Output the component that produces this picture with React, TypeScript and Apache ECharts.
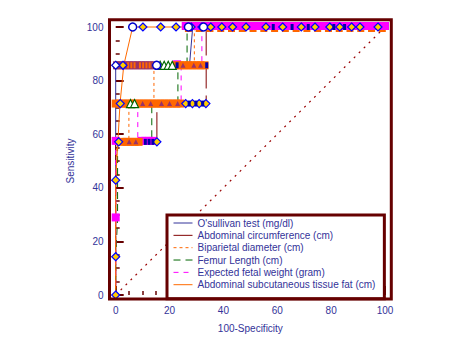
import React, { useEffect, useRef } from 'react';
import * as echarts from 'echarts';

// ---- data (100-Specificity %, Sensitivity %) ----
const seriesNames = [
  "O'sullivan test (mg/dl)",
  'Abdominal circumference (cm)',
  'Biparietal diameter (cm)',
  'Femur Length (cm)',
  'Expected fetal weight (gram)',
  'Abdominal subcutaneous tissue fat (cm)',
];

const osullivanX = [0, 0, 0, 0, 0, 0, 0, 27.4, 28.6, 100];
const osullivanY = [0, 14.29, 28.57, 42.86, 57.14, 71.43, 85.71, 85.71, 100, 100];

const abdCircX = [0, 0, 0, 0, 0, 15.3, 15.3, 33.6, 33.6, 100];
const abdCircY = [0, 14.29, 28.57, 42.86, 57.14, 57.14, 71.43, 71.43, 100, 100];

const bpdX = [0, 0, 0, 0, 0.5, 4.9, 4.9, 14.2, 14.2, 29.2, 29.2, 100];
const bpdY = [0, 14.29, 28.57, 42.86, 57.14, 57.14, 71.43, 71.43, 85.71, 85.71, 100, 100];

const femurX = [0, 0, 0.7, 0.7, 0.7, 13.4, 13.4, 23.1, 23.1, 26.5, 26.5, 100];
const femurY = [0, 14.29, 28.57, 42.86, 57.14, 57.14, 71.43, 71.43, 85.71, 85.71, 100, 100];

const efwX = [0, 0, 0, 0, 0, 8.2, 8.2, 24.3, 24.3, 32, 32, 100];
const efwY = [0, 14.29, 28.57, 42.86, 57.14, 57.14, 71.43, 71.43, 85.71, 85.71, 100, 100];

const fatX = [0, 0, 0, 0, 0.8, 1.6, 3.0, 6.3, 100];
const fatY = [0, 14.29, 28.57, 42.86, 57.14, 71.43, 85.71, 100, 100];

const diagX = [0, 100];
const diagY = [0, 100];

// ---- point markers ----
const diamondX = [0, 0, 0, 1.1, 1.7, 2.7, 10.1, 16.7, 22.4, 28, 32, 35.3, 39.4, 43.4, 48.4, 55.8, 62, 68.9, 74, 79.5, 83.2, 87.6, 90.7, 97.4, 15.3, 26, 28.5, 31, 33.5];
const diamondY = [0, 14.29, 42.86, 57.14, 71.43, 85.71, 100, 100, 100, 100, 100, 100, 100, 100, 100, 100, 100, 100, 100, 100, 100, 100, 100, 100, 57.14, 71.43, 71.43, 71.43, 71.43];

const circleX = [6.3, 15.2, 27, 32.6];
const circleY = [100, 85.71, 100, 100];

const openDiamondX = [0];
const openDiamondY = [85.71];

const magentaX = [0, 0, 22.8, 9.6, 11, 12.4, 13.8, 26, 28, 30, 32, 34, 36, 38, 40, 42, 44, 46, 48, 50, 52, 54, 56, 58, 60, 62, 64, 66, 68, 70, 72, 74, 76, 78, 80, 82, 84, 86, 88, 90, 92, 94, 96, 98, 100];
const magentaY = [28.57, 57.14, 85.71, 57.14, 57.14, 57.14, 57.14, 100, 100, 100, 100, 100, 100, 100, 100, 100, 100, 100, 100, 100, 100, 100, 100, 100, 100, 100, 100, 100, 100, 100, 100, 100, 100, 100, 100, 100, 100, 100, 100, 100, 100, 100, 100, 100, 100];

const orangeX = [0, 1.5, 3, 4.5, 6, 7.5, 9, 10.5, 12, 13.5, 15, 16.5, 18, 19.5, 21, 22.5, 24, 22.5, 24, 25.5, 27, 28.5, 30, 31.5, 33, 2.5, 4, 5.5, 7, 8.5];
const orangeY = [71.43, 71.43, 71.43, 71.43, 71.43, 71.43, 71.43, 71.43, 71.43, 71.43, 71.43, 71.43, 71.43, 71.43, 71.43, 71.43, 71.43, 85.71, 85.71, 85.71, 85.71, 85.71, 85.71, 85.71, 85.71, 57.14, 57.14, 57.14, 57.14, 57.14];

const orangeTopX = [27, 31, 35, 39, 43, 47, 51, 55, 59, 63, 67, 71, 75, 79, 83, 87, 91, 95, 99];
const orangeTopY = [100, 100, 100, 100, 100, 100, 100, 100, 100, 100, 100, 100, 100, 100, 100, 100, 100, 100, 100];

const purpleX = [0.5, 2, 3.5, 5, 6.5, 8, 9.5, 11, 12.5, 14];
const purpleY = [85.71, 85.71, 85.71, 85.71, 85.71, 85.71, 85.71, 85.71, 85.71, 85.71];

const stripeX = [4.6, 5.8, 7.0, 9.0, 10.2, 11.4, 12.6, 13.8];
const stripeY = [85.71, 85.71, 85.71, 85.71, 85.71, 85.71, 85.71, 85.71];

const hatchX = [10, 13, 17, 20, 23, 25, 29, 31.5, 5, 7.5];
const hatchY = [71.43, 71.43, 71.43, 71.43, 71.43, 85.71, 85.71, 85.71, 57.14, 57.14];

const triangleX = [5.5, 7.0, 16.5, 18, 19.5, 21];
const triangleY = [71.43, 71.43, 85.71, 85.71, 85.71, 85.71];

const navyX = [27.3, 29.8, 32.3, 11, 12.4, 13.8, 33.8, 22.8, 58.5, 65.5, 71.5, 81, 85];
const navyY = [71.43, 71.43, 71.43, 57.14, 57.14, 57.14, 85.71, 85.71, 100, 100, 100, 100, 100];

const xTicks = { min: 0, max: 100, interval: 20 };
const yTicks = { min: 0, max: 100, interval: 20 };

// ---- styling ----
const FRAME = '#660000';
const TEXT = '#333399';
const FONT = "'Liberation Sans', Arial, sans-serif";

const pts = (xs: number[], ys: number[]) => xs.map((x, i) => [x, ys[i]]);

const lineDefs = [
  { x: osullivanX, y: osullivanY, color: '#333399', type: 'solid' as any },
  { x: abdCircX, y: abdCircY, color: '#800000', type: [26, 7] },
  { x: bpdX, y: bpdY, color: '#ff6600', type: [3, 3] },
  { x: femurX, y: femurY, color: '#006600', type: [7, 5] },
  { x: efwX, y: efwY, color: '#ff00ff', type: [5, 5] },
  { x: fatX, y: fatY, color: '#ff6a00', type: 'solid' as any },
];

const markerSeries = (
  name: string,
  xs: number[],
  ys: number[],
  symbol: string,
  size: any,
  fill: string,
  border: string,
  bw: number,
  z: number,
  offset: number[] = [0, 0]
) => ({
  type: 'scatter',
  name,
  data: pts(xs, ys),
  symbol,
  symbolSize: size,
  symbolOffset: offset,
  itemStyle: { color: fill, borderColor: border, borderWidth: bw, opacity: 1 },
  clip: false,
  silent: true,
  z,
});

export default function App() {
  const ref = useRef<HTMLDivElement>(null);
  useEffect(() => {
    const chart = echarts.init(ref.current!, null, { renderer: 'svg' });
    const option: any = {
      animation: false,
      backgroundColor: '#ffffff',
      grid: { left: 115.7, right: 85, top: 27, bottom: 58 },
      xAxis: {
        type: 'value',
        ...xTicks,
        offset: 4,
        name: '100-Specificity',
        nameLocation: 'middle',
        nameGap: 24,
        nameTextStyle: { color: TEXT, fontSize: 10, fontFamily: FONT },
        axisLine: { show: false },
        axisTick: { show: true, inside: true, length: 9, lineStyle: { color: FRAME, width: 2 } },
        minorTick: { show: true, splitNumber: 4, length: 4, lineStyle: { color: FRAME, width: 1.5 } },
        splitLine: { show: false },
        axisLabel: { color: TEXT, fontSize: 10, fontFamily: FONT, margin: 6 },
      },
      yAxis: {
        type: 'value',
        ...yTicks,
        offset: 6.2,
        name: 'Sensitivity',
        nameLocation: 'middle',
        nameGap: 25,
        nameRotate: 90,
        nameTextStyle: { color: TEXT, fontSize: 10, fontFamily: FONT },
        axisLine: { show: false },
        axisTick: { show: true, inside: true, length: 8, lineStyle: { color: FRAME, width: 2 } },
        minorTick: { show: true, splitNumber: 4, length: 4, lineStyle: { color: FRAME, width: 1.5 } },
        splitLine: { show: false },
        axisLabel: { color: TEXT, fontSize: 10, fontFamily: FONT, margin: 6 },
      },
      legend: {
        data: seriesNames,
        orient: 'vertical',
        left: 167,
        top: 215,
        padding: [2, 9, 8, 6],
        itemWidth: 19,
        itemHeight: 8,
        itemGap: 0.34,
        selectedMode: false,
        backgroundColor: '#ffffff',
        borderColor: FRAME,
        borderWidth: 3,
        borderRadius: 0,
        itemStyle: { opacity: 0 },
        lineStyle: { width: 1 },
        textStyle: { color: TEXT, fontSize: 10, fontFamily: FONT, lineHeight: 12 },
      },
      graphic: [
        {
          type: 'rect',
          shape: { x: 109.5, y: 19.7, width: 281.8, height: 279.3 },
          style: { fill: 'none', stroke: FRAME, lineWidth: 3 },
          silent: true,
          z: 100,
        },
      ],
      series: [
        {
          type: 'line',
          name: 'diagonal',
          data: pts(diagX, diagY),
          symbol: 'none',
          lineStyle: { color: '#990000', width: 1.2, type: [2, 5] },
          silent: true,
          clip: false,
          z: 1,
        },
        ...lineDefs.map((d, i) => ({
          type: 'line',
          name: seriesNames[i],
          data: pts(d.x, d.y),
          symbol: 'none',
          lineStyle: { color: d.color, width: 1, type: d.type },
          itemStyle: { color: d.color },
          silent: true,
          clip: false,
          z: 2,
        })),
        markerSeries('m-orange-top', orangeTopX, orangeTopY, 'rect', 7, '#ff6600', '#ff6600', 0, 3, [0, 1.5]),
        markerSeries('m-magenta', magentaX, magentaY, 'rect', 8, '#ff00ff', '#ff00ff', 0, 3, [0, -1]),
        markerSeries('m-orange', orangeX, orangeY, 'rect', 8, '#ff6600', '#ff6600', 0, 3),
        markerSeries('m-purple', purpleX, purpleY, 'rect', 8, '#993366', '#993366', 0, 3),
        markerSeries('m-stripe', stripeX, stripeY, 'rect', [2, 6], '#ff6600', '#ff6600', 0, 4),
        markerSeries('m-hatch', hatchX, hatchY, 'triangle', 5, '#993366', '#993366', 0, 4),
        markerSeries('m-triangle', triangleX, triangleY, 'triangle', 8, '#ffffff', '#006600', 1.2, 4),
        markerSeries('m-diamond', diamondX, diamondY, 'diamond', 8, '#ffcc00', '#0000ff', 1.2, 5),
        markerSeries('m-open-diamond', openDiamondX, openDiamondY, 'diamond', 8, '#ffffff', '#0000cc', 1.2, 6),
        markerSeries('m-circle', circleX, circleY, 'circle', 8, '#ffffff', '#0000cc', 1.5, 6),
        markerSeries('m-navy', navyX, navyY, 'rect', [3, 6], '#0000aa', '#0000aa', 0, 7),
      ],
    };
    chart.setOption(option);
    return () => chart.dispose();
  }, []);
  return (
    <div
      ref={ref}
      style={{ position: 'fixed', left: 0, top: 0, width: 470, height: 353, background: '#ffffff' }}
    />
  );
}
